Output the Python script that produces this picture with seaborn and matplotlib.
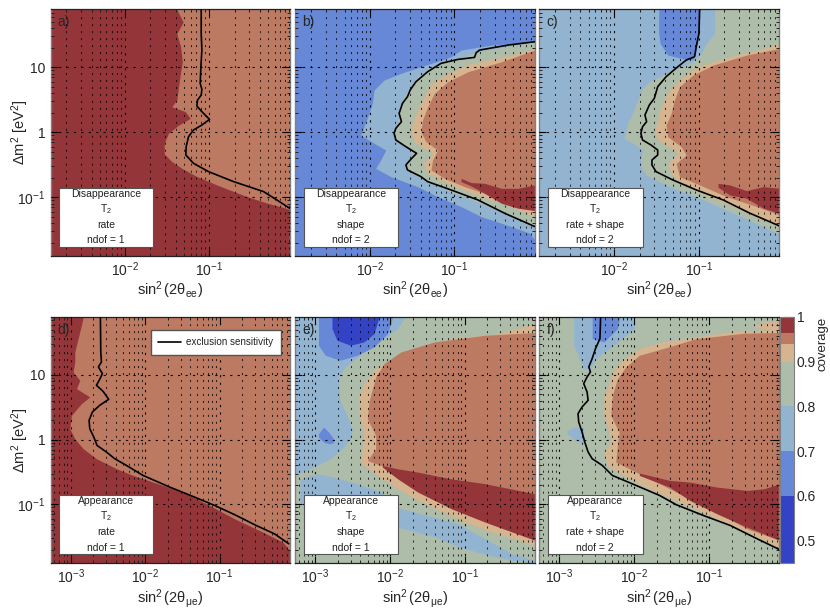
import matplotlib
matplotlib.use("Agg")
import matplotlib.pyplot as plt
import numpy as np
import seaborn as sns
from matplotlib.cm import ScalarMappable
from matplotlib.colors import BoundaryNorm, ListedColormap
from matplotlib.patches import Rectangle
from matplotlib.ticker import FixedLocator, NullFormatter

# all curves below are log10(sin^2) and log10(dm^2)
cov_levels = [0.45, 0.6, 0.7, 0.8, 0.9, 0.94, 0.965, 1.0]
cov_colors = ["#3443c6", "#6788d6", "#92b4d1", "#aebdaa", "#d6b48f", "#bc7a62", "#94353a"]
cov_ticks = [0.5, 0.6, 0.7, 0.8, 0.9, 1.0]
cov_tick_labels = ["0.5", "0.6", "0.7", "0.8", "0.9", "1"]
dark_blue, mid_blue, light_blue, grey_green, tan, brown, dark_red = cov_colors

# a) disappearance rate
a_brown_m = [1.892, 1.70, 1.52, 1.32, 1.09, 0.88, 0.70, 0.50, 0.395, 0.32, 0.215, 0.11, -0.015, -0.17, -0.33, -0.45, -0.555, -0.68, -0.81, -0.99, -1.09, -1.185]
a_brown_s = [-1.385, -1.31, -1.385, -1.34, -1.32, -1.345, -1.365, -1.385, -1.445, -1.285, -1.225, -1.365, -1.485, -1.535, -1.535, -1.445, -1.325, -1.147, -0.91, -0.55, -0.31, -0.04]
a_curve_m = [1.892, 1.523, 1.267, 1.010, 0.754, 0.662, 0.574, 0.497, 0.405, 0.318, 0.2, 0.113, 0.036, -0.067, -0.221, -0.349, -0.477, -0.605, -0.759, -0.913, -1.026, -1.169]
a_curve_s = [-1.095, -1.095, -1.087, -1.099, -1.107, -1.087, -1.095, -1.139, -1.147, -1.087, -0.996, -1.087, -1.187, -1.246, -1.274, -1.278, -1.187, -1.008, -0.710, -0.353, -0.214, -0.044]

# b) disappearance shape
b_light_m = [1.395, 1.344, 1.267, 1.164, 1.062, 0.908, 0.805, 0.651, 0.446, 0.292, 0.087, -0.041, -0.169, -0.272, -0.426, -0.554, -0.682, -0.836, -0.990, -1.144, -1.297, -1.451, -1.554, -1.656]
b_light_s = [-0.048, -0.563, -0.921, -1.04, -1.278, -1.635, -1.833, -1.952, -1.972, -2.012, -2.071, -2.111, -1.952, -1.813, -1.873, -1.933, -1.754, -1.437, -1.198, -0.921, -0.683, -0.325, -0.107, -0.048]
b_grey_m = [1.395, 1.267, 1.138, 1.010, 0.856, 0.703, 0.497, 0.292, 0.138, 0.0, -0.118, -0.246, -0.349, -0.477, -0.605, -0.759, -0.913, -1.092, -1.246, -1.451]
b_grey_s = [-0.05, -0.643, -0.96, -1.238, -1.437, -1.516, -1.615, -1.655, -1.675, -1.714, -1.675, -1.536, -1.496, -1.575, -1.536, -1.317, -1.04, -0.683, -0.405, -0.05]
b_tan_m = [1.292, 1.19, 1.062, 0.933, 0.754, 0.549, 0.344, 0.138, -0.015, -0.169, -0.297, -0.374, -0.477, -0.631, -0.810, -0.990, -1.144, -1.297]
b_tan_s = [-0.05, -0.325, -0.802, -1.04, -1.278, -1.357, -1.437, -1.496, -1.516, -1.456, -1.278, -1.278, -1.377, -1.317, -1.04, -0.683, -0.325, -0.05]
b_brown_m = [1.267, 1.087, 0.933, 0.779, 0.6, 0.395, 0.19, 0.01, -0.144, -0.272, -0.426, -0.579, -0.708, -0.836, -0.990, -1.144]
b_brown_s = [-0.05, -0.444, -0.841, -1.079, -1.238, -1.317, -1.377, -1.397, -1.337, -1.198, -1.258, -1.278, -1.119, -0.881, -0.524, -0.05]
b_red_s = [-0.921, -0.802, -0.643, -0.444, -0.246, -0.05]
b_red_top = [-0.708, -0.774, -0.785, -0.862, -0.862, -0.810]
b_red_bot = [-0.759, -0.826, -0.938, -1.092, -1.169, -1.205]
b_curve_m = [1.395, 1.344, 1.267, 1.226, 1.154, 1.123, 1.062, 0.933, 0.779, 0.651, 0.549, 0.446, 0.292, 0.164, 0.062, -0.015, -0.118, -0.221, -0.323, -0.415, -0.503, -0.579, -0.682, -0.759, -0.887, -1.041, -1.246, -1.451]
b_curve_s = [-0.048, -0.365, -0.702, -0.742, -0.762, -0.96, -1.159, -1.317, -1.456, -1.524, -1.556, -1.615, -1.655, -1.627, -1.694, -1.714, -1.694, -1.575, -1.448, -1.516, -1.575, -1.556, -1.397, -1.317, -1.04, -0.722, -0.405, -0.048]

# c) disappearance rate + shape
c_mid_m = [1.892, 1.523, 1.369, 1.19, 1.123]
c_mid_left = [-1.472, -1.472, -1.456, -1.365, -1.147]
c_mid_right = [-0.988, -0.988, -1.016, -1.04, -1.067]
c_grey_m = [1.892, 1.523, 1.369, 1.215, 1.087, 0.933, 0.779, 0.677, 0.497, 0.292, 0.138, -0.092, -0.195, -0.272, -0.4, -0.528, -0.656, -0.836, -0.99, -1.221, -1.451, -1.579]
c_grey_s = [-0.81, -0.81, -0.909, -0.968, -1.067, -1.345, -1.583, -1.663, -1.722, -1.782, -1.841, -1.881, -1.742, -1.663, -1.683, -1.683, -1.623, -1.345, -1.028, -0.631, -0.234, -0.036]
c_tan_m = [1.369, 1.292, 1.164, 1.01, 0.805, 0.651, 0.395, 0.19, 0.01, -0.118, -0.221, -0.323, -0.477, -0.682, -0.836, -0.99, -1.118, -1.349, -1.451]
c_tan_s = [-0.044, -0.234, -0.631, -1.028, -1.226, -1.345, -1.444, -1.484, -1.524, -1.484, -1.345, -1.246, -1.365, -1.306, -1.147, -0.869, -0.631, -0.234, -0.044]
c_brown_m = [1.292, 1.19, 1.036, 0.882, 0.703, 0.497, 0.292, 0.113, -0.067, -0.221, -0.349, -0.477, -0.682, -0.810, -0.99, -1.144, -1.272]
c_brown_s = [-0.044, -0.433, -0.829, -1.067, -1.226, -1.286, -1.325, -1.385, -1.365, -1.206, -1.147, -1.266, -1.226, -0.988, -0.671, -0.313, -0.044]
c_red_s = [-0.77, -0.631, -0.433, -0.234, -0.044]
c_red_top = [-0.785, -0.81, -0.897, -0.836, -0.862]
c_red_bot = [-0.846, -0.964, -1.015, -1.169, -1.246]
c_curve_m = [1.892, 1.523, 1.318, 1.164, 1.113, 1.01, 0.856, 0.703, 0.523, 0.421, 0.267, 0.164, 0.087, -0.015, -0.118, -0.195, -0.272, -0.349, -0.426, -0.503, -0.605, -0.733, -0.887, -1.041, -1.246, -1.441]
c_curve_s = [-0.988, -0.996, -1.028, -1.048, -1.147, -1.246, -1.385, -1.484, -1.524, -1.583, -1.635, -1.615, -1.663, -1.683, -1.663, -1.563, -1.484, -1.484, -1.552, -1.552, -1.504, -1.306, -1.028, -0.71, -0.393, -0.044]

# d) appearance rate
d_brown_m = [1.892, 1.768, 1.562, 1.356, 1.201, 1.046, 0.918, 0.789, 0.66, 0.557, 0.376, 0.17, 0.015, -0.139, -0.294, -0.448, -0.552, -0.706, -0.861, -1.015, -1.222, -1.428, -1.582, -1.696]
d_brown_s = [-2.834, -2.857, -2.902, -2.946, -2.946, -2.969, -2.879, -2.924, -2.745, -2.857, -2.991, -3.013, -2.946, -2.834, -2.655, -2.387, -2.163, -1.761, -1.403, -1.134, -0.799, -0.418, -0.15, -0.069]
d_curve_m = [1.892, 1.356, 1.201, 1.124, 1.021, 0.933, 0.84, 0.747, 0.624, 0.531, 0.428, 0.299, 0.17, 0.041, -0.088, -0.191, -0.294, -0.397, -0.552, -0.732, -0.887, -1.015, -1.17, -1.325, -1.454, -1.608]
d_curve_s = [-2.602, -2.597, -2.588, -2.629, -2.575, -2.611, -2.655, -2.566, -2.49, -2.611, -2.709, -2.754, -2.745, -2.691, -2.647, -2.521, -2.409, -2.253, -2.029, -1.671, -1.336, -1.067, -0.776, -0.508, -0.262, -0.069]

# e) appearance shape
e_light_m = [1.892, 1.716, 1.562, 1.407, 1.253, 1.098, 0.969, 0.789, 0.582, 0.376, 0.17, 0.015, -0.139, -0.294, -0.448, -0.552]
e_light_s = [-1.802, -1.901, -2.081, -2.306, -2.464, -2.622, -2.689, -2.689, -2.667, -2.577, -2.509, -2.532, -2.644, -2.802, -3.072, -3.293]
e_mid_s = [-2.959, -2.869, -2.667, -2.441, -2.216, -2.036, -1.968]
e_mid_bot = [1.459, 1.304, 1.227, 1.304, 1.433, 1.639, 1.892]
e_dark_s = [-2.779, -2.712, -2.532, -2.351, -2.216, -2.149]
e_dark_bot = [1.716, 1.536, 1.459, 1.51, 1.639, 1.892]
e_spot_s = [-2.959, -2.892, -2.824, -2.757]
e_spot_top = [0.093, 0.196, 0.119, 0.015]
e_spot_bot = [0.041, -0.036, -0.062, -0.046]
e_low_s = [-1.901, -1.405, -1.09, -0.73, -0.369, -0.054]
e_low_top = [-1.05, -1.2, -1.3, -1.53, -1.76, -1.87]
e_low_bot = [-1.35, -1.5, -1.65, -1.77, -1.86, -1.9]
e_box_s = [-3.207, -2.982, -2.757, -2.441, -2.126, -1.901]
e_box_top = [-0.603, -0.525, -0.577, -0.68, -0.809, -1.015]
e_box_bot = [-1.0, -1.0, -1.0, -1.0, -1.0, -1.015]
e_tan_m = [1.794, 1.639, 1.562, 1.433, 1.278, 1.072, 0.866, 0.686, 0.376, 0.119, -0.139, -0.345, -0.552, -0.758, -1.015, -1.222, -1.428, -1.634]
e_tan_s = [-0.054, -0.55, -1.18, -1.631, -1.946, -2.216, -2.351, -2.419, -2.419, -2.351, -2.374, -2.396, -2.171, -1.901, -1.495, -1.09, -0.64, -0.054]
e_brown_m = [1.655, 1.613, 1.51, 1.356, 1.175, 0.969, 0.582, 0.325, 0.067, -0.139, -0.32, -0.407, -0.835]
e_brown_s = [-0.054, -0.73, -1.405, -1.856, -2.081, -2.194, -2.284, -2.306, -2.194, -2.194, -2.306, -2.104, -0.054]
e_red_s = [-2.104, -1.901, -1.631, -1.18, -0.73, -0.054]
e_red_top = [-0.397, -0.448, -0.5, -0.603, -0.68, -0.835]
e_red_bot = [-0.423, -0.603, -0.809, -1.067, -1.273, -1.557]

# f) appearance rate + shape
f_light_s = [-2.811, -2.676, -2.586, -2.518, -2.248, -2.0, -1.986]
f_light_bot = [1.459, 1.098, 1.098, 1.253, 1.485, 1.716, 1.892]
f_mid_s = [-2.563, -2.405, -2.225, -2.194]
f_mid_bot = [1.562, 1.51, 1.716, 1.892]
f_spot_s = [-2.901, -2.788, -2.676]
f_spot_top = [0.144, 0.196, 0.196]
f_spot_bot = [0.093, -0.01, -0.062]
f_patch_s = [-0.401, -0.25, -0.05]
f_patch_top = [1.768, 1.82, 1.83]
f_patch_bot = [1.742, 1.716, 1.69]
f_tan_m = [1.706, 1.665, 1.588, 1.51, 1.407, 1.227, 1.046, 0.789, 0.686, 0.376, 0.119, -0.036, -0.191, -0.397, -0.577, -0.758, -0.964, -1.222, -1.428, -1.675]
f_tan_s = [-0.05, -0.716, -1.167, -1.617, -1.932, -2.158, -2.293, -2.36, -2.405, -2.405, -2.338, -2.315, -2.405, -2.36, -2.113, -1.797, -1.392, -0.896, -0.491, -0.05]
f_brown_m = [1.655, 1.644, 1.562, 1.407, 1.304, 1.124, 0.943, 0.686, 0.376, 0.119, -0.088, -0.345, -0.526, -0.706, -0.912, -1.119, -1.376, -1.557]
f_brown_s = [-0.05, -0.536, -1.167, -1.617, -1.932, -2.113, -2.225, -2.293, -2.315, -2.203, -2.225, -2.248, -1.932, -1.617, -1.257, -0.896, -0.491, -0.05]
f_red_s = [-1.932, -1.527, -1.257, -0.896, -0.491, -0.266, -0.05]
f_red_top = [-0.515, -0.629, -0.655, -0.732, -0.784, -0.758, -0.68]
f_red_bot = [-0.552, -0.732, -0.938, -1.144, -1.351, -1.454, -1.557]
f_curve_m = [1.892, 1.562, 1.407, 1.253, 1.124, 1.046, 0.969, 0.866, 0.737, 0.608, 0.505, 0.402, 0.273, 0.119, -0.036, -0.191, -0.294, -0.397, -0.552, -0.706, -0.861, -1.005, -1.17, -1.325, -1.531, -1.701]
f_curve_s = [-2.45, -2.459, -2.518, -2.563, -2.608, -2.586, -2.631, -2.676, -2.631, -2.617, -2.698, -2.752, -2.743, -2.698, -2.662, -2.617, -2.563, -2.428, -2.293, -1.977, -1.662, -1.437, -1.077, -0.716, -0.356, -0.05]

# panel annotations
panel_letters = ["a)", "b)", "c)", "d)", "e)", "f)"]
panel_channels = ["Disappearance"] * 3 + ["Appearance"] * 3
panel_modes = ["rate", "shape", "rate + shape"] * 2
panel_ndof = ["ndof = 1", "ndof = 2", "ndof = 2", "ndof = 1", "ndof = 1", "ndof = 2"]
angle_labels = [r"$\sin^2(2\theta_{ee})$", r"$\sin^2(2\theta_{\mu e})$"]

sns.set_style("ticks")
plt.rcParams["font.family"] = ["Liberation Sans", "DejaVu Sans"]
plt.rcParams["mathtext.fontset"] = "custom"
plt.rcParams["mathtext.rm"] = "Liberation Sans"
plt.rcParams["mathtext.it"] = "Liberation Sans:italic"
plt.rcParams["mathtext.bf"] = "Liberation Sans:bold"
plt.rcParams["mathtext.default"] = "regular"

W, H = 830, 615
fig = plt.figure(figsize=(W / 100, H / 100), dpi=100)


def px_axes(x0, x1, y0, y1):
    return fig.add_axes([x0 / W, 1 - y1 / H, (x1 - x0) / W, (y1 - y0) / H])


lefts = [(50.7, 289.5), (295.3, 535), (539.3, 779.3)]
rows = [(9.3, 255.7), (317, 562.7)]
axes = [px_axes(*lefts[c], *rows[r]) for r in range(2) for c in range(3)]
xlims = [(-2.885, -0.045), (-3.27, -0.06)]
M_TOP, M_BOT = 1.895, -1.9


def p10(v):
    return 10.0 ** np.asarray(v)


def fill_right(ax, m, s, color):
    ax.fill_betweenx(p10(m), p10(s), ax.get_xlim()[1], color=color, lw=0, zorder=1)


def fill_left(ax, m, s, color):
    ax.fill_betweenx(p10(m), ax.get_xlim()[0], p10(s), color=color, lw=0, zorder=1)


def blob(ax, s, top, bot, color):
    ax.fill_between(p10(s), p10(top), p10(bot), color=color, lw=0, zorder=1)


def curve(ax, m, s, label=None):
    sns.lineplot(x=p10(s), y=p10(m), sort=False, estimator=None, color="black",
                 lw=1.2, ax=ax, zorder=3, label=label, legend=False)


for i, ax in enumerate(axes):
    r = i // 3
    ax.set_xscale("log")
    ax.set_yscale("log")
    ax.set_xlim(10 ** xlims[r][0], 10 ** xlims[r][1])
    ax.set_ylim(10 ** M_BOT, 10 ** M_TOP)

ax_a, ax_b, ax_c, ax_d, ax_e, ax_f = axes
top = [M_TOP]

ax_a.set_facecolor(dark_red)
fill_right(ax_a, a_brown_m, a_brown_s, brown)
curve(ax_a, a_curve_m, a_curve_s)

ax_b.set_facecolor(mid_blue)
fill_right(ax_b, b_light_m, b_light_s, light_blue)
fill_right(ax_b, b_grey_m, b_grey_s, grey_green)
fill_right(ax_b, b_tan_m, b_tan_s, tan)
fill_right(ax_b, b_brown_m, b_brown_s, brown)
blob(ax_b, b_red_s, b_red_top, b_red_bot, dark_red)
curve(ax_b, b_curve_m, b_curve_s)

ax_c.set_facecolor(light_blue)
ax_c.fill_betweenx(p10(c_mid_m), p10(c_mid_left), p10(c_mid_right), color=mid_blue, lw=0, zorder=1)
fill_right(ax_c, c_grey_m, c_grey_s, grey_green)
fill_right(ax_c, c_tan_m, c_tan_s, tan)
fill_right(ax_c, c_brown_m, c_brown_s, brown)
blob(ax_c, c_red_s, c_red_top, c_red_bot, dark_red)
curve(ax_c, c_curve_m, c_curve_s)

ax_d.set_facecolor(dark_red)
fill_right(ax_d, d_brown_m, d_brown_s, brown)
curve(ax_d, d_curve_m, d_curve_s, label="exclusion sensitivity")
leg = ax_d.legend(loc="upper left", bbox_to_anchor=(0.42, 0.948), fontsize=7.1, frameon=True, fancybox=False,
                  framealpha=1, edgecolor="#555555", borderpad=0.75, handlelength=2.3, handletextpad=0.5, borderaxespad=0)
leg.set_zorder(6)
for txt in leg.get_texts():
    txt.set_color("#222222")

ax_e.set_facecolor(grey_green)
fill_left(ax_e, e_light_m, e_light_s, light_blue)
blob(ax_e, e_mid_s, top * len(e_mid_s), e_mid_bot, mid_blue)
blob(ax_e, e_dark_s, top * len(e_dark_s), e_dark_bot, dark_blue)
blob(ax_e, e_spot_s, e_spot_top, e_spot_bot, mid_blue)
blob(ax_e, e_low_s, e_low_top, e_low_bot, light_blue)
blob(ax_e, e_box_s, e_box_top, e_box_bot, light_blue)
fill_right(ax_e, e_tan_m, e_tan_s, tan)
fill_right(ax_e, e_brown_m, e_brown_s, brown)
blob(ax_e, e_red_s, e_red_top, e_red_bot, dark_red)

ax_f.set_facecolor(grey_green)
blob(ax_f, f_light_s, top * len(f_light_s), f_light_bot, light_blue)
blob(ax_f, f_mid_s, top * len(f_mid_s), f_mid_bot, mid_blue)
blob(ax_f, f_spot_s, f_spot_top, f_spot_bot, light_blue)
blob(ax_f, f_patch_s, f_patch_top, f_patch_bot, tan)
fill_right(ax_f, f_tan_m, f_tan_s, tan)
fill_right(ax_f, f_brown_m, f_brown_s, brown)
blob(ax_f, f_red_s, f_red_top, f_red_bot, dark_red)
curve(ax_f, f_curve_m, f_curve_s)

minor_subs = np.arange(2, 10)
dots = (0, (2, 4.7))
for i, ax in enumerate(axes):
    r, c = i // 3, i % 3
    ax.set_axisbelow(False)
    ax.xaxis.set_major_locator(FixedLocator([1e-3, 1e-2, 1e-1] if r else [1e-2, 1e-1]))
    ax.xaxis.set_major_formatter(plt.FixedFormatter([r"$10^{-3}$", r"$10^{-2}$", r"$10^{-1}$"] if r else [r"$10^{-2}$", r"$10^{-1}$"]))
    ax.xaxis.set_minor_locator(matplotlib.ticker.LogLocator(10, subs=minor_subs, numticks=12))
    ax.xaxis.set_minor_formatter(NullFormatter())
    ax.yaxis.set_major_locator(FixedLocator([0.1, 1, 10]))
    ax.yaxis.set_minor_locator(matplotlib.ticker.LogLocator(10, subs=minor_subs, numticks=12))
    ax.yaxis.set_minor_formatter(NullFormatter())
    if c == 0:
        ax.yaxis.set_major_formatter(plt.FixedFormatter([r"$10^{-1}$", "1", "10"]))
        ax.set_ylabel(r"$\Delta m^2\ [eV^2]$", fontsize=10.5)
        ax.yaxis.set_label_coords(-0.083, 0.5)
    else:
        ax.yaxis.set_major_formatter(NullFormatter())
    ax.set_xlabel(angle_labels[r], fontsize=10.5, labelpad=0.5)
    ax.tick_params(which="major", direction="in", top=True, right=True, length=5, width=0.8, labelsize=10, color="black")
    ax.tick_params(axis="x", which="major", pad=3.5)
    ax.tick_params(axis="y", which="major", pad=4)
    ax.tick_params(which="minor", direction="in", top=True, right=True, length=2.5, width=0.7, color="#222222")
    ax.grid(True, which="major", axis="both", color="black", ls=dots, lw=0.8, alpha=0.95)
    ax.grid(True, which="minor", axis="x", color="black", ls=dots, lw=0.75, alpha=0.75)
    for side in ["left", "right"]:
        ax.spines[side].set_color("#808080")
        ax.spines[side].set_linewidth(1.0)
    for side in ["top", "bottom"]:
        ax.spines[side].set_color("#222222")
        ax.spines[side].set_linewidth(0.9)

    # label box
    ax.text(0.03, 0.947, panel_letters[i], transform=ax.transAxes, fontsize=10, va="center", ha="left", zorder=6)
    bx, by, bw, bh = 0.035, 0.0365, 0.395, 0.24
    ax.add_patch(Rectangle((bx, by), bw, bh, transform=ax.transAxes, fc="white", ec="#555555", lw=0.8, zorder=5))
    lines = [panel_channels[i], r"$T_2$", panel_modes[i], panel_ndof[i]]
    for frac, line in zip([0.11, 0.37, 0.635, 0.895], lines):
        ax.text(bx + bw / 2, by + bh * (1 - frac), line, transform=ax.transAxes, fontsize=7.5,
                ha="center", va="center", color="#222222", zorder=6)

cax = px_axes(780, 794, 317, 562.7)
cmap = ListedColormap(cov_colors)
norm = BoundaryNorm(cov_levels, cmap.N)
cbar = fig.colorbar(ScalarMappable(norm=norm, cmap=cmap), cax=cax, spacing="proportional", ticks=cov_ticks)
cbar.ax.set_yticklabels(cov_tick_labels)
cbar.ax.tick_params(direction="in", length=8, width=0.8, labelsize=10, pad=2, color="black")
cbar.ax.minorticks_off()
cbar.outline.set_edgecolor("#808080")
cbar.outline.set_linewidth(0.8)
fig.text(822 / W, 1 - 317 / H, "coverage", rotation=90, fontsize=9.5, ha="center", va="top")

fig.savefig("out.png", dpi=100)
